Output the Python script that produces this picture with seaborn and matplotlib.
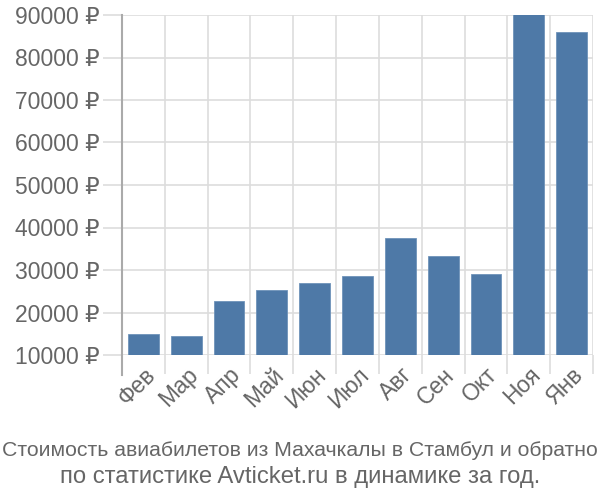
import matplotlib
matplotlib.use("Agg")
import matplotlib.pyplot as plt
import seaborn as sns
import numpy as np
import pandas as pd
from matplotlib.ticker import FixedLocator

months = ["Фев", "Мар", "Апр", "Май", "Июн", "Июл", "Авг", "Сен", "Окт", "Ноя", "Янв"]
prices = [14870, 14540, 22700, 25300, 26900, 28600, 37460, 33370, 29060, 90500, 86000]
yticks = [10000, 20000, 30000, 40000, 50000, 60000, 70000, 80000, 90000]
title_line1 = "Стоимость авиабилетов из Махачкалы в Стамбул и обратно"
title_line2 = "по статистике Avticket.ru в динамике за год."

sns.set_theme(style="white")
plt.rcParams['font.family'] = ['Liberation Sans', 'DejaVu Sans']

df = pd.DataFrame({"month": months, "price": prices})

fig = plt.figure(figsize=(6, 5), dpi=100)
ax = fig.add_axes([122/600, 1-355/500, 471/600, 340/500])

sns.barplot(data=df, x="month", y="price", color="#4e79a7", saturation=1,
            width=0.72, ax=ax, zorder=3, edgecolor="#6f93ba", linewidth=0.6)

ax.set_ylim(10000, 90000)
ax.set_xlim(-0.5, len(months) - 0.5)
ax.set_yticks(yticks)
ax.set_yticklabels([f"{v} ₽" for v in yticks], color="#666666", fontsize=16.5)
ax.set_xticks(range(len(months)))
ax.set_xticklabels(months, rotation=45, ha="right", rotation_mode="anchor",
                   color="#666666", fontsize=16.5)
ax.xaxis.set_minor_locator(FixedLocator(np.arange(-0.5, len(months), 1.0)))

ax.grid(axis="y", which="major", color="#dddddd", linewidth=1.2, zorder=0)
ax.grid(axis="x", which="minor", color="#dddddd", linewidth=1.2, zorder=0)
ax.grid(axis="x", which="major", visible=False)

ax.tick_params(axis="y", which="major", length=14, width=1.2, color="#dddddd", pad=2, left=True)
ax.tick_params(axis="x", which="major", length=0, pad=6)
ax.tick_params(axis="x", which="minor", length=14, width=1.2, color="#dddddd", bottom=True)

for s in ["top", "right", "bottom"]:
    ax.spines[s].set_visible(False)
ax.spines["left"].set_color("#aaaaaa")
ax.spines["left"].set_linewidth(1.5)
ax.spines["left"].set_bounds(90000 - 80000 * (360/340), 90000)
ax.spines["left"].set_clip_on(False)

ax.set_xlabel("")
ax.set_ylabel("")

fig.text(0.5, 1-456.5/500, title_line1, ha="center", va="baseline", fontsize=15.3,
         color="#666666")
fig.text(0.5, 1-483/500, title_line2, ha="center", va="baseline", fontsize=17.2,
         color="#666666")

fig.savefig("out.png", dpi=100)
